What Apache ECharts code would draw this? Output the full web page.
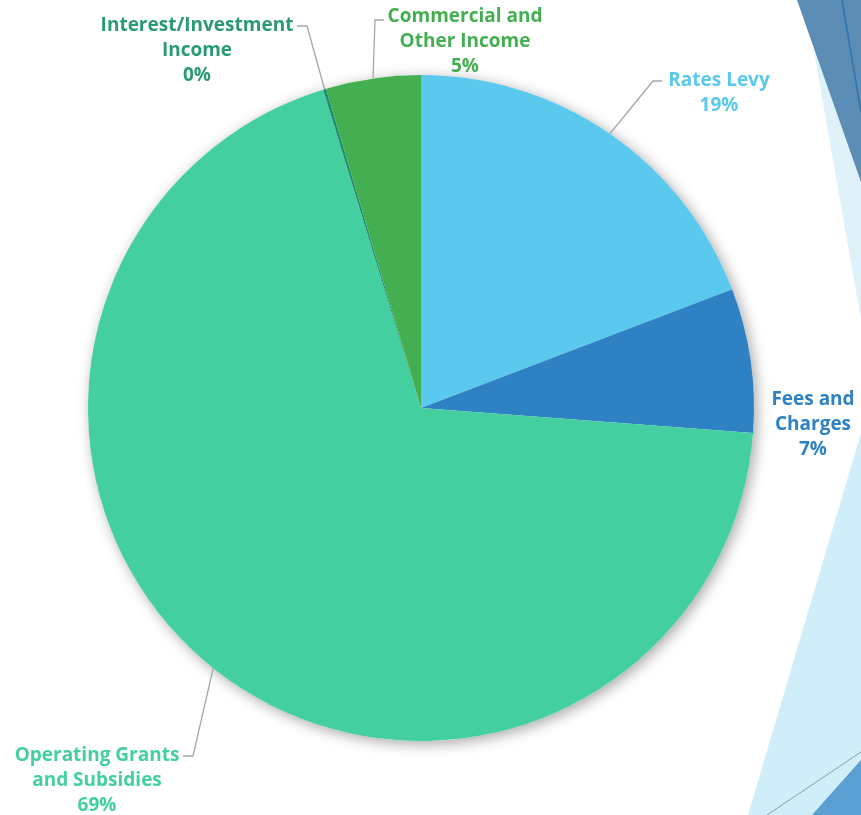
<!DOCTYPE html>
<html>
<head>
<meta charset="utf-8">
<title>Revenue by Source</title>
<script src="https://cdn.jsdelivr.net/npm/echarts@6/dist/echarts.min.js"></script>
<style>
  html, body { margin: 0; padding: 0; background: #ffffff; }
  #chart { width: 861px; height: 815px; }
</style>
</head>
<body>
<div id="chart"></div>
<script>
// Revenue sources (share of total revenue, %)
const categories = [
  'Rates Levy',
  'Fees and\nCharges',
  'Operating Grants\nand Subsidies',
  'Interest/Investment\nIncome',
  'Commercial and\nOther Income'
];
const shares = [19.2, 7.0, 69.05, 0.15, 4.6];
const sliceColors = ['#5bc9ee', '#2e82c3', '#43cfa0', '#218f6c', '#43af50'];
const labelColors = ['#5bc9ee', '#2e82c3', '#43cfa0', '#2a9a72', '#43af50'];

// Where each label block sits, and the elbow of its leader line
const labelPlacement = [
  { x: 719, y: 93, line: [[653, 81], [662, 81]] },
  { x: 813, y: 425, line: null },
  { x: 97, y: 781, line: [[193, 756], [183, 756]] },
  { x: 197, y: 51, line: [[307, 26], [297, 26]] },
  { x: 465, y: 42, line: [[375, 20], [384, 20]] }
];

const fontFamily = '"Open Sans", "Noto Sans", sans-serif';

const chart = echarts.init(document.getElementById('chart'), null, { renderer: 'canvas' });

const pieData = categories.map((name, i) => ({
  name: name,
  value: shares[i],
  itemStyle: { color: sliceColors[i] },
  label: { color: labelColors[i] },
  labelLine: { show: labelPlacement[i].line !== null }
}));

const option = {
  backgroundColor: '#ffffff',
  animation: false,
  graphic: [
    // slide theme decorations along the right edge
    { type: 'polygon', silent: true, z: -10,
      shape: { points: [[805, 0], [861, 0], [861, 320]] },
      style: { fill: '#dff2fa' } },
    { type: 'polygon', silent: true, z: -9,
      shape: { points: [[797, 0], [861, 0], [861, 182]] },
      style: { fill: '#5c8db5' } },
    { type: 'line', silent: true, z: -8,
      shape: { x1: 842, y1: 0, x2: 861, y2: 112 },
      style: { stroke: '#2f73aa', lineWidth: 1.5 } },
    { type: 'polygon', silent: true, z: -10,
      shape: { points: [[861, 433], [861, 815], [748, 815]] },
      style: { fill: '#d0eef9' } },
    { type: 'line', silent: true, z: -8,
      shape: { x1: 767, y1: 815, x2: 861, y2: 752 },
      style: { stroke: '#8a9ba6', lineWidth: 1 } },
    { type: 'polygon', silent: true, z: -8,
      shape: { points: [[812, 815], [861, 760], [861, 815]] },
      style: { fill: '#5a9fd2' } }
  ],
  series: [
    {
      // soft drop shadow under the whole pie
      type: 'pie',
      silent: true,
      z: 1,
      center: [421, 408],
      radius: 333,
      label: { show: false },
      labelLine: { show: false },
      itemStyle: {
        color: '#ffffff',
        shadowBlur: 14,
        shadowOffsetX: 3,
        shadowOffsetY: 3,
        shadowColor: 'rgba(0,0,0,0.35)'
      },
      data: [{ name: 'total', value: shares.reduce((a, b) => a + b, 0) }]
    },
    {
      type: 'pie',
      z: 2,
      center: [421, 408],
      radius: 333,
      startAngle: 90,
      clockwise: true,
      avoidLabelOverlap: false,
      percentPrecision: 0,
      minAngle: 0,
      itemStyle: { borderWidth: 0 },
      label: {
        show: true,
        position: 'outside',
        formatter: '{b}\n{d}%',
        fontFamily: fontFamily,
        fontWeight: 'bold',
        fontSize: 19,
        lineHeight: 25,
        align: 'center'
      },
      labelLine: {
        show: true,
        length: 20,
        length2: 10,
        lineStyle: { color: '#a6a6a6', width: 1.3 }
      },
      labelLayout: function (params) {
        const p = labelPlacement[params.dataIndex];
        const out = { x: p.x, y: p.y, align: 'center', verticalAlign: 'middle' };
        if (p.line && params.labelLinePoints) {
          out.labelLinePoints = [params.labelLinePoints[0], p.line[0], p.line[1]];
        }
        return out;
      },
      data: pieData
    }
  ]
};

chart.setOption(option);
</script>
</body>
</html>
